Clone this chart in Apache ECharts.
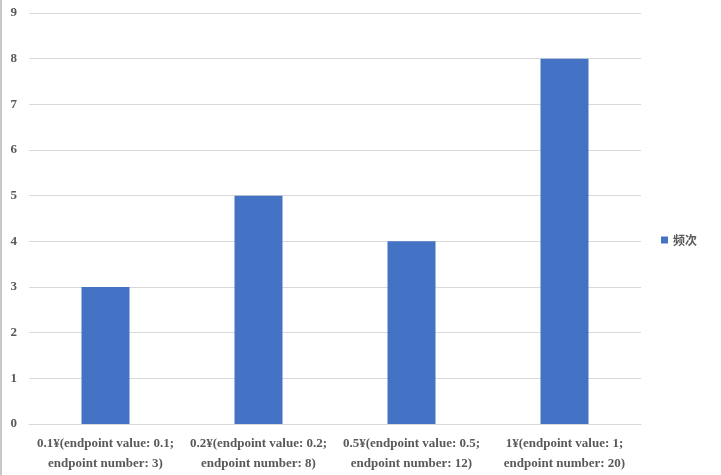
<!DOCTYPE html>
<html><head><meta charset="utf-8">
<script src="https://cdn.jsdelivr.net/npm/echarts@6/dist/echarts.min.js"></script>
<style>html,body{margin:0;padding:0;background:#fff}#c{width:721px;height:475px}</style>
</head><body><div id="c"></div>
<script>
const categories = [
  "0.1¥(endpoint value: 0.1;\nendpoint number: 3)",
  "0.2¥(endpoint value: 0.2;\nendpoint number: 8)",
  "0.5¥(endpoint value: 0.5;\nendpoint number: 12)",
  "1¥(endpoint value: 1;\nendpoint number: 20)"
];
const seriesName = "频次";
const values = [3, 5, 4, 8];
const yTicks = {min: 0, max: 9, interval: 1};

const chart = echarts.init(document.getElementById('c'));
const txt = {color: '#595959', fontFamily: '"Liberation Serif", "Times New Roman", serif', fontWeight: 'bold', fontSize: 13};
chart.setOption({
  animation: false,
  graphic: [{type: 'line', shape: {x1: 1, y1: 0, x2: 1, y2: 475}, style: {stroke: '#c8c8c8', lineWidth: 2}}],
  grid: {left: 29, right: 80, top: 13, bottom: 51, containLabel: false},
  legend: {
    orient: 'vertical', left: 656, top: 229, itemWidth: 7, itemHeight: 7, itemGap: 4,
    icon: 'rect',
    textStyle: {color: '#595959', fontFamily: '"Noto Sans CJK SC", sans-serif', fontWeight: 'bold', fontSize: 12},
    data: [seriesName]
  },
  xAxis: {
    type: 'category', data: categories,
    axisLine: {lineStyle: {color: '#d9d9d9'}},
    axisTick: {show: false},
    axisLabel: Object.assign({}, txt, {interval: 0, margin: 10, lineHeight: 20})
  },
  yAxis: {
    type: 'value', min: yTicks.min, max: yTicks.max, interval: yTicks.interval,
    axisLine: {show: false}, axisTick: {show: false},
    splitLine: {lineStyle: {color: '#d9d9d9'}},
    axisLabel: Object.assign({}, txt, {margin: 12})
  },
  series: [{
    name: seriesName, type: 'bar', data: values, barWidth: 48,
    itemStyle: {color: '#4472c4'}
  }]
});
</script></body></html>
